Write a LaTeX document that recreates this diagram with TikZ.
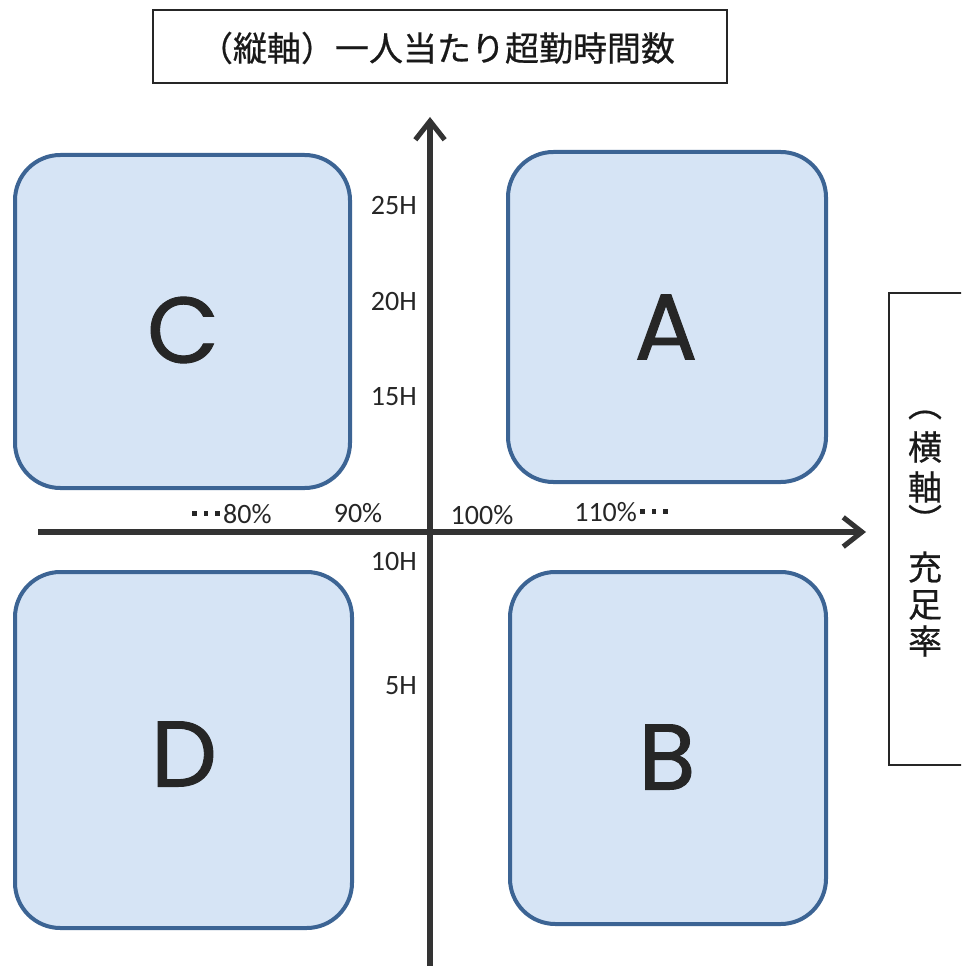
\documentclass[tikz,border=0pt]{standalone}
\usepackage{fontspec}
\setmainfont{Liberation Sans}
\newfontfamily\jpfont[UprightFeatures={FakeBold=0.6}]{Noto Sans CJK JP}
\newfontfamily\lblfont{Carlito}
\newfontfamily\letterfont[UprightFeatures={FakeBold=1}]{Poppins}
\usetikzlibrary{arrows.meta}
\definecolor{boxfill}{HTML}{D6E4F5}
\definecolor{boxline}{HTML}{3C6494}
\definecolor{axiscol}{HTML}{333333}
\newcommand{\sqdot}{\raisebox{0.28em}{\rule{0.16em}{0.16em}}}
\newcommand{\dotrow}{\sqdot\hspace{0.25em}\sqdot\hspace{0.25em}\sqdot}
\tikzset{
  quad/.style={draw=boxline, fill=boxfill, line width=3pt, rounded corners=34pt, inner sep=0pt},
  quadletter/.style={font=\letterfont\fontsize{70}{70}\selectfont, text=black!85, inner sep=0pt},
  axisline/.style={draw=axiscol, line width=3.8pt, -{Straight Barb[length=14pt, width=22pt, line width=3.8pt]}},
  ticklbl/.style={font=\lblfont\fontsize{21}{21}\selectfont, text=black!85, inner sep=0pt},
  framebox/.style={draw=black!85, line width=1.1pt, inner sep=0pt},
  jptext/.style={font=\jpfont\fontsize{25.5}{25.5}\selectfont, text=black!90, inner sep=0pt},
}
\begin{document}
\begin{tikzpicture}[x=0.75pt, y=-0.75pt]
\useasboundingbox (0,0) rectangle (961,966);
\clip (0,0) rectangle (961,966);
\fill[white] (0,0) rectangle (961,966);

% title box
\node[framebox, minimum width=430.5pt, minimum height=54.75pt] (title) at (440,46.5) {};
\node[jptext] (titletext) at (437,48) {（縦軸）一人当たり超勤時間数};

% right box
\node[framebox, minimum width=90.75pt, minimum height=354pt] (rbox) at (949.5,529) {};
\node[jptext] (r1) at (925,415) {︵};
\node[jptext] (r2) at (925,447) {横};
\node[jptext] (r3) at (925,487) {軸};
\node[jptext] (r4) at (925,519) {︶};
\node[jptext] (r5) at (925,567) {充};
\node[jptext] (r6) at (925,605) {足};
\node[jptext] (r7) at (925,641) {率};

% quadrant boxes
\node[quad, minimum width=251.25pt, minimum height=249.75pt] (C) at (182.5,321.5) {};
\node[quad, minimum width=238.5pt, minimum height=247.5pt] (A) at (667,317) {};
\node[quad, minimum width=252.75pt, minimum height=267pt] (D) at (183.5,750) {};
\node[quad, minimum width=237pt, minimum height=264pt] (B) at (668,748) {};
\node[quadletter] (Cl) at (183,330) {C};
\node[quadletter] (Al) at (666,327) {A};
\node[quadletter] (Dl) at (184,754) {D};
\node[quadletter] (Bl) at (667,757) {B};

% axes
\coordinate (ybot) at (430,966);
\coordinate (ytop) at (430,117);
\coordinate (xl) at (38,532);
\coordinate (xr) at (866,532);
\draw[axisline] (ybot) -- (ytop);
\draw[axisline] (xl) -- (xr);

% vertical tick labels
\node[ticklbl, anchor=east] (h25) at (417,206) {25H};
\node[ticklbl, anchor=east] (h20) at (417,302) {20H};
\node[ticklbl, anchor=east] (h15) at (417,397) {15H};
\node[ticklbl, anchor=east] (h10) at (417,562) {10H};
\node[ticklbl, anchor=east] (h5) at (417,686) {5H};

% horizontal tick labels
\node[ticklbl] (p80) at (232,514) {\dotrow\hspace{0.12em}80\%};
\node[ticklbl] (p90) at (358,513) {90\%};
\node[ticklbl] (p100) at (482,515) {100\%};
\node[ticklbl] (p110) at (621,512) {110\%\hspace{0.12em}\dotrow};
\end{tikzpicture}
\end{document}
